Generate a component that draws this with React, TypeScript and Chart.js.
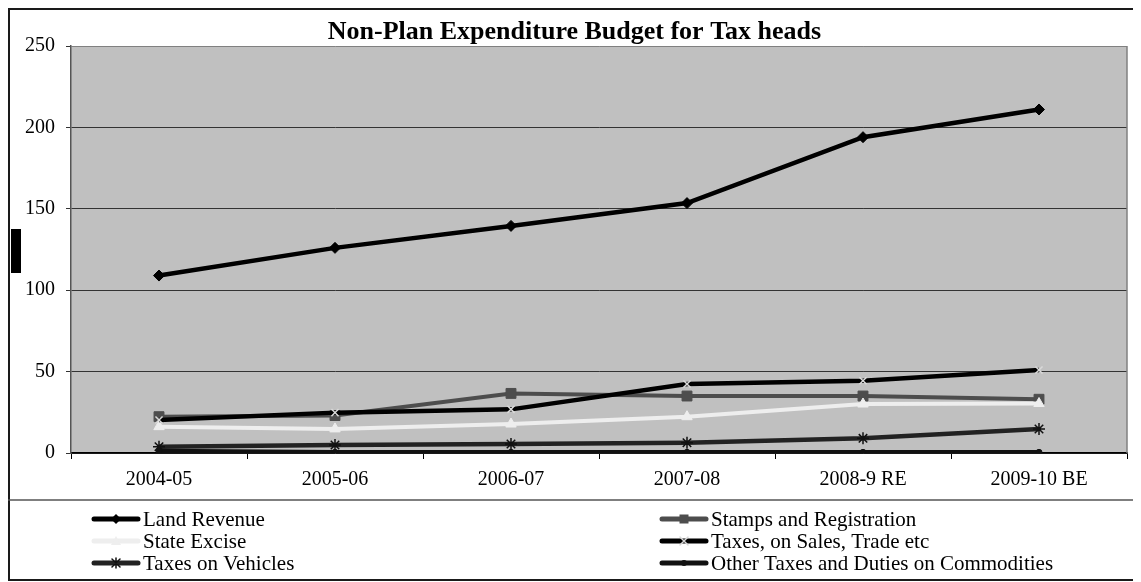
import React, { useEffect, useRef } from 'react';
import { Chart, registerables } from 'chart.js';

Chart.register(...registerables);

const chartTitle = 'Non-Plan Expenditure Budget for Tax heads';
const categories = ['2004-05', '2005-06', '2006-07', '2007-08', '2008-9 RE', '2009-10 BE'];
const landRevenue = [109, 126, 139.5, 153.5, 194, 211];
const stampsRegistration = [22.3, 23, 36.6, 35, 35, 33];
const stateExcise = [16.2, 14.8, 17.8, 22.3, 30.1, 30.4];
const taxesOnSales = [20.3, 24.8, 26.8, 42.4, 44.4, 51];
const taxesOnVehicles = [3.9, 4.9, 5.5, 6.3, 9, 14.7];
const otherTaxes = [1.3, 0.4, 0.4, 0.4, 0.4, 0.4];
const yMin = 0;
const yMax = 250;
const yStep = 50;

const FONT = "'Liberation Serif', 'Times New Roman', serif";

type Series = {
  label: string;
  data: number[];
  color: string;
  width: number;
  marker: string;
  markerColor: string;
  pointStyle: string;
  radius: number;
  pointBorderWidth: number;
};

const series: Series[] = [
  { label: 'Land Revenue', data: landRevenue, color: '#000000', width: 4.5, marker: 'diamond', markerColor: '#000000', pointStyle: 'rectRot', radius: 5.5, pointBorderWidth: 1 },
  { label: 'Stamps and Registration', data: stampsRegistration, color: '#4d4d4d', width: 4, marker: 'square', markerColor: '#4d4d4d', pointStyle: 'rect', radius: 7, pointBorderWidth: 1 },
  { label: 'State Excise', data: stateExcise, color: '#eeeeee', width: 4, marker: 'triangle', markerColor: '#eeeeee', pointStyle: 'triangle', radius: 6, pointBorderWidth: 1 },
  { label: 'Taxes, on Sales, Trade etc', data: taxesOnSales, color: '#000000', width: 4.5, marker: 'x', markerColor: '#d9d9d9', pointStyle: 'crossRot', radius: 5, pointBorderWidth: 1.5 },
  { label: 'Taxes on Vehicles', data: taxesOnVehicles, color: '#222222', width: 4.5, marker: 'star', markerColor: '#111111', pointStyle: 'star', radius: 6, pointBorderWidth: 1.5 },
  { label: 'Other Taxes and Duties on Commodities', data: otherTaxes, color: '#111111', width: 4.5, marker: 'circle', markerColor: '#111111', pointStyle: 'circle', radius: 3, pointBorderWidth: 1 },
];

function drawMarker(ctx: CanvasRenderingContext2D, kind: string, color: string, x: number, y: number) {
  ctx.save();
  ctx.fillStyle = color;
  ctx.strokeStyle = color;
  ctx.lineWidth = 1.5;
  ctx.beginPath();
  if (kind === 'diamond') {
    ctx.moveTo(x, y - 5); ctx.lineTo(x + 5, y); ctx.lineTo(x, y + 5); ctx.lineTo(x - 5, y); ctx.closePath(); ctx.fill();
  } else if (kind === 'square') {
    ctx.rect(x - 4.5, y - 4.5, 9, 9); ctx.fill();
  } else if (kind === 'triangle') {
    ctx.moveTo(x, y - 5); ctx.lineTo(x + 5, y + 4); ctx.lineTo(x - 5, y + 4); ctx.closePath(); ctx.fill();
  } else if (kind === 'x') {
    ctx.moveTo(x - 4, y - 4); ctx.lineTo(x + 4, y + 4); ctx.moveTo(x + 4, y - 4); ctx.lineTo(x - 4, y + 4); ctx.stroke();
  } else if (kind === 'star') {
    ctx.moveTo(x - 4, y - 4); ctx.lineTo(x + 4, y + 4); ctx.moveTo(x + 4, y - 4); ctx.lineTo(x - 4, y + 4);
    ctx.moveTo(x, y - 5); ctx.lineTo(x, y + 5); ctx.stroke();
  } else if (kind === 'circle') {
    ctx.arc(x, y, 3, 0, Math.PI * 2); ctx.fill();
  }
  ctx.restore();
}

const decorPlugin = {
  id: 'decor',
  beforeDraw(chart: any) {
    const { ctx, chartArea: a, width, height } = chart;
    ctx.save();
    ctx.fillStyle = '#ffffff';
    ctx.fillRect(0, 0, width, height);
    ctx.fillStyle = '#c0c0c0';
    ctx.fillRect(a.left, a.top, a.right - a.left, a.bottom - a.top);
    ctx.restore();
  },
  beforeDatasetsDraw(chart: any) {
    const { ctx, chartArea: a } = chart;
    ctx.save();
    ctx.strokeStyle = '#808080';
    ctx.lineWidth = 1.5;
    ctx.beginPath();
    ctx.moveTo(a.right, a.top);
    ctx.lineTo(a.right, a.bottom);
    ctx.stroke();
    ctx.restore();
  },
  afterDraw(chart: any) {
    const { ctx, width } = chart;
    ctx.save();
    // outer border
    ctx.strokeStyle = '#1a1a1a';
    ctx.lineWidth = 2;
    ctx.strokeRect(1, 1, width + 10, 571);
    // separator between plot and legend
    ctx.strokeStyle = '#555555';
    ctx.lineWidth = 1.5;
    ctx.beginPath();
    ctx.moveTo(0, 492);
    ctx.lineTo(width, 492);
    ctx.stroke();
    // title
    ctx.fillStyle = '#000000';
    ctx.font = `bold 26px ${FONT}`;
    ctx.textAlign = 'center';
    ctx.textBaseline = 'alphabetic';
    ctx.fillText(chartTitle, width / 2, 31);
    // y axis title artifact (black box)
    ctx.fillStyle = '#000000';
    ctx.fillRect(3, 221, 10, 44);
    // legend
    const cols = [84, 652];
    const rows = [511, 533, 555];
    ctx.font = `21px ${FONT}`;
    ctx.textAlign = 'left';
    ctx.textBaseline = 'middle';
    series.forEach((s, i) => {
      const x0 = cols[i % 2];
      const y = rows[Math.floor(i / 2)];
      ctx.strokeStyle = s.color;
      ctx.lineWidth = 5;
      ctx.lineCap = 'round';
      ctx.beginPath();
      ctx.moveTo(x0 + 2, y);
      ctx.lineTo(x0 + 46, y);
      ctx.stroke();
      drawMarker(ctx, s.marker, s.markerColor, x0 + 24, y);
      ctx.fillStyle = '#000000';
      ctx.fillText(s.label, x0 + 51, y + 1);
    });
    ctx.restore();
  },
};

export default function App() {
  const ref = useRef<HTMLCanvasElement | null>(null);

  useEffect(() => {
    if (!ref.current) return;
    const yTickValues: number[] = [];
    for (let v = yMin; v <= yMax; v += yStep) yTickValues.push(v);
    const chart = new Chart(ref.current, {
      type: 'line',
      data: {
        labels: categories,
        datasets: series.map((s, i) => ({
          label: s.label,
          data: s.data,
          borderColor: s.color,
          backgroundColor: s.markerColor,
          borderWidth: s.width,
          pointStyle: s.pointStyle as any,
          pointRadius: s.radius,
          pointBackgroundColor: s.markerColor,
          pointBorderColor: s.markerColor,
          pointBorderWidth: s.pointBorderWidth,
          tension: 0,
          fill: false,
          order: series.length - i,
        })),
      },
      options: {
        responsive: false,
        animation: false,
        events: [],
        layout: { padding: { top: 38, left: 0, right: 14, bottom: 82 } },
        plugins: {
          legend: { display: false },
          title: { display: false },
          tooltip: { enabled: false },
        },
        scales: {
          x: {
            offset: true,
            grid: {
              offset: true,
              drawOnChartArea: false,
              tickLength: 6,
              color: '#000000',
              lineWidth: 1,
            },
            border: { display: true, color: '#000000', width: 1.5 },
            ticks: {
              color: '#000000',
              font: { family: FONT, size: 20 },
              padding: 9,
              maxRotation: 0,
              autoSkip: false,
            },
            afterFit: (scale: any) => { scale.height = 47; },
          },
          y: {
            min: yMin,
            max: yMax,
            grid: {
              color: (c: any) => (c.tick && c.tick.value === yMax ? '#808080' : '#333333'),
              tickColor: '#333333',
              tickLength: 5,
              lineWidth: 1,
            },
            border: { display: true, color: '#555555', width: 1.5 },
            ticks: {
              stepSize: yStep,
              color: '#000000',
              font: { family: FONT, size: 20 },
              padding: 11,
            },
            afterBuildTicks: (scale: any) => {
              scale.ticks = yTickValues.map((v) => ({ value: v }));
            },
            afterFit: (scale: any) => { scale.width = 63; },
          },
        },
      },
      plugins: [decorPlugin],
    });
    return () => chart.destroy();
  }, []);

  return <canvas ref={ref} width={1133} height={574} style={{ display: 'block' }} />;
}
